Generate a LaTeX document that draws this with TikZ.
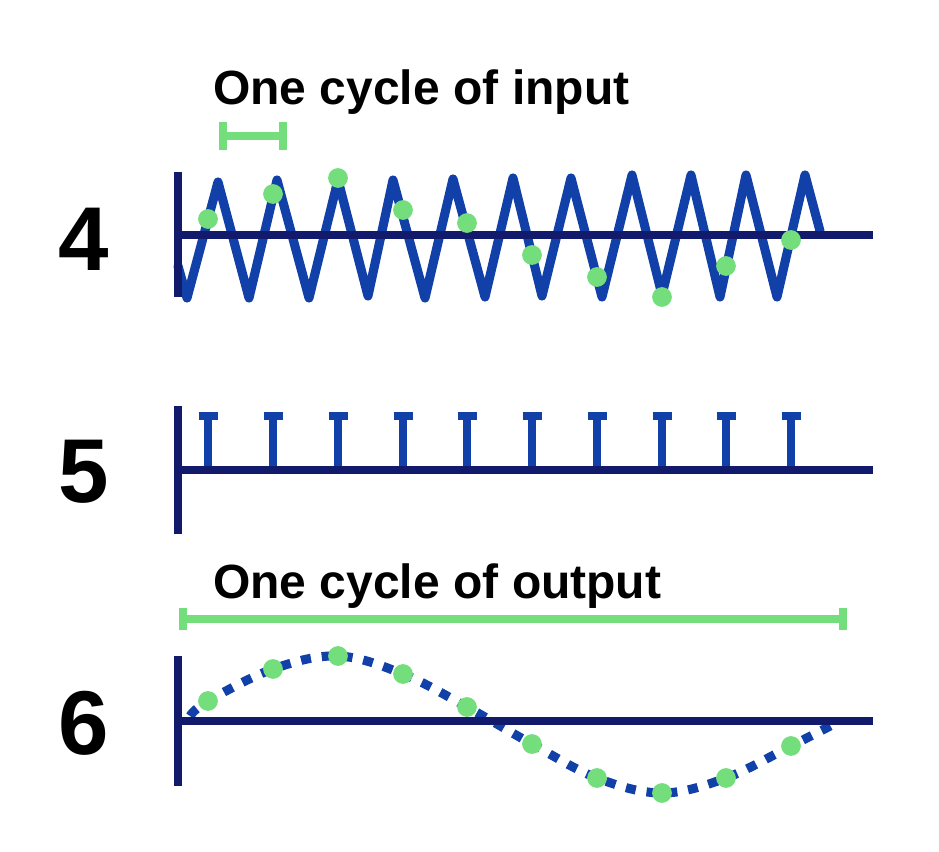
\documentclass[tikz,border=0pt]{standalone}
\usepackage{fontspec}
\setmainfont{Liberation Sans}
\definecolor{axisblue}{HTML}{121A6B}
\definecolor{waveblue}{HTML}{1140A8}
\definecolor{dotgreen}{HTML}{74DE7C}
\tikzset{
 axisline/.style={axisblue,line width=5.6pt},
 zig/.style={waveblue,line width=6.8pt,line join=round,line cap=round},
 stem/.style={waveblue,line width=6.6pt},
 stemcap/.style={waveblue,line width=6.4pt},
 dashwave/.style={waveblue,line width=6.8pt,dash pattern=on 7.5pt off 8.2pt},
 bracket/.style={dotgreen,line width=5.4pt},
 sample/.style={circle,fill=dotgreen,inner sep=0pt,minimum size=14.8pt},
 cyclelabel/.style={inner sep=0pt,anchor=base west,font=\bfseries\fontsize{36}{36}\selectfont},
 numlabel/.style={inner sep=0pt,anchor=base,font=\bfseries\fontsize{68}{68}\selectfont},
}
\begin{document}
\begin{tikzpicture}[x=0.75pt,y=-0.75pt]
\useasboundingbox (0,0) rectangle (939,852);
\fill[white] (0,0) rectangle (939,852);
% labels
\node[cyclelabel] (t1) at (213,105) {One cycle of input};
\node[cyclelabel] (t2) at (213,598) {One cycle of output};
\node[numlabel] (n4) at (83.5,271) {4};
\node[numlabel] (n5) at (84,502) {5};
\node[numlabel] (n6) at (84,754) {6};
% brackets
\draw[bracket] (223,136) -- (283,136);
\draw[bracket] (223,122) -- (223,150);
\draw[bracket] (283,122) -- (283,150);
\draw[bracket] (183,619) -- (843,619);
\draw[bracket] (183,608) -- (183,630);
\draw[bracket] (843,608) -- (843,630);
% zigzag
\draw[zig] (178,266) -- (187,298) -- (218,182) -- (249,298) -- (277,180) -- (309,298)
 -- (338,180) -- (368,296) -- (393,180) -- (425,298) -- (453,179) -- (485,297)
 -- (513,178) -- (542,296) -- (571,178) -- (602,297) -- (632,175) -- (662,295)
 -- (691,175) -- (720,297) -- (746,175) -- (777,297) -- (805,175) -- (820,231);
% axes row 4
\draw[axisline] (178,172) -- (178,297);
\draw[axisline] (178,235) -- (873,235);
% dots row 4
\foreach \n/\x/\y in {a/208/219,b/273/194,c/338/178,d/403/210,e/467/223,f/532/255,g/597/277,h/662/297,i/726/266,j/791/240}
  \node[sample] (s4\n) at (\x,\y) {};
% row 5
\foreach \x in {208,273,338,403,467,532,597,662,726,791} {
  \draw[stem] (\x,416) -- (\x,470);
  \draw[stemcap] (\x-9.5,416) -- (\x+9.5,416);
}
\draw[axisline] (178,406) -- (178,534);
\draw[axisline] (178,470) -- (873,470);
% row 6
\draw[dashwave] plot[smooth,tension=0.6] coordinates {(190,716) (208,701) (273,669) (338,656) (403,674) (467,707) (532,744) (597,778) (662,793) (726,778) (791,746) (838,722)};
\draw[axisline] (178,656) -- (178,786);
\draw[axisline] (178,721) -- (873,721);
\foreach \n/\x/\y in {a/208/701,b/273/669,c/338/656,d/403/674,e/467/707,f/532/744,g/597/778,h/662/793,i/726/778,j/791/746}
  \node[sample] (s6\n) at (\x,\y) {};
\end{tikzpicture}
\end{document}
